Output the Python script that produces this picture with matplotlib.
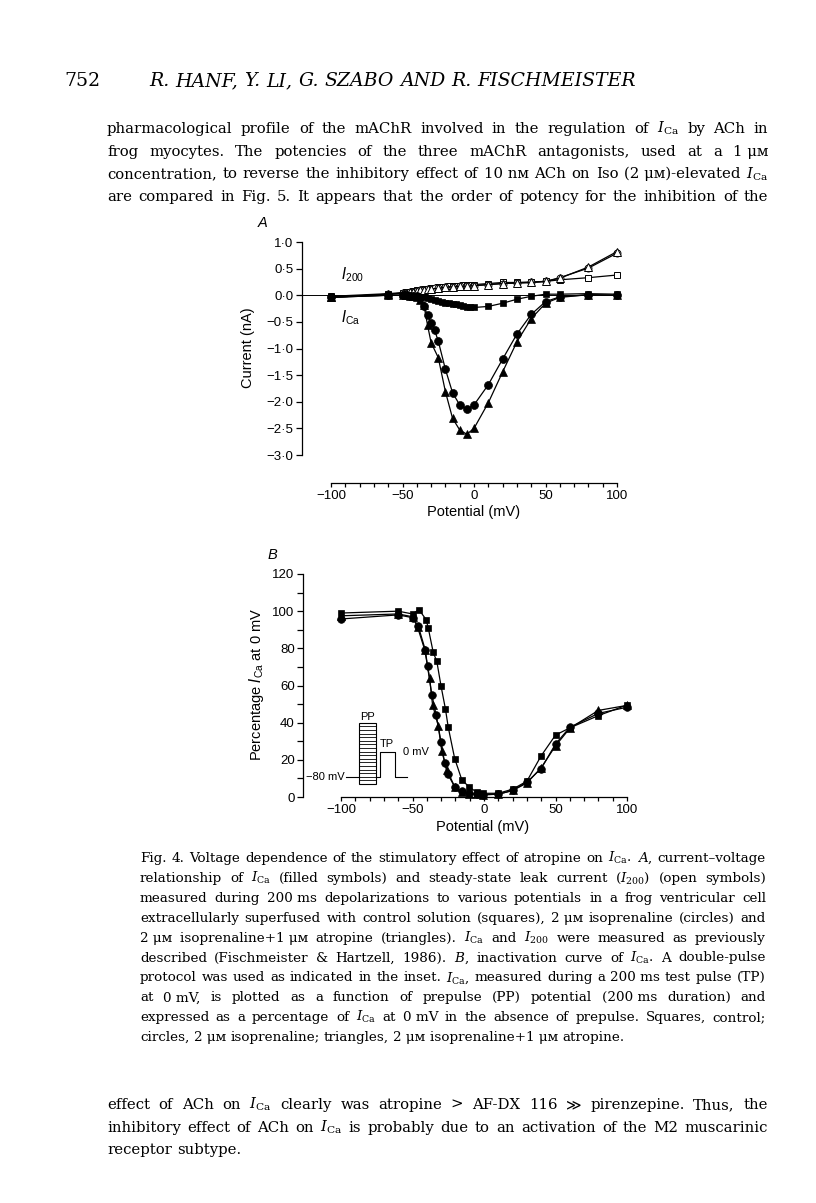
import matplotlib
matplotlib.use('Agg')
import matplotlib.pyplot as plt
from matplotlib.ticker import MultipleLocator

# ---------------- data: panel A (current-voltage) ----------------
V_ctrl_A = [-100, -60, -50, -47.5, -45, -42.5, -40, -37.5, -35, -32.5, -30, -27.5, -25, -22.5,
            -20, -17.5, -15, -12.5, -10, -7.5, -5, -2.5, 0, 10, 20, 30, 40, 50, 60, 80, 100]
ICa_ctrl = [-0.03, 0.0, 0.0, 0.0, -0.01, -0.01, -0.02, -0.03, -0.04, -0.05, -0.07, -0.09, -0.11, -0.13,
            -0.14, -0.15, -0.16, -0.17, -0.19, -0.21, -0.22, -0.23, -0.23, -0.21, -0.15, -0.075, -0.02,
            0.02, 0.02, 0.03, 0.02]
I200_ctrl = [-0.02, 0.03, 0.05, 0.06, 0.07, 0.08, 0.09, 0.10, 0.11, 0.12, 0.13, 0.14, 0.15, 0.15,
             0.16, 0.17, 0.17, 0.18, 0.18, 0.19, 0.19, 0.20, 0.20, 0.22, 0.24, 0.24, 0.25, 0.26, 0.29,
             0.33, 0.38]

V_iso_A = [-100, -60, -50, -47.5, -45, -42.5, -40, -37.5, -35, -32.5, -30, -27.5, -25, -20, -15,
           -10, -5, 0, 10, 20, 30, 40, 50, 60, 80, 100]
ICa_iso = [-0.04, 0.0, 0.0, 0.0, -0.01, -0.01, -0.02, -0.06, -0.2, -0.38, -0.52, -0.66, -0.86, -1.39,
           -1.83, -2.06, -2.14, -2.06, -1.68, -1.2, -0.73, -0.36, -0.12, -0.03, 0.01, 0.0]
I200_iso = [-0.04, 0.02, 0.04, 0.05, 0.06, 0.07, 0.08, 0.09, 0.10, 0.11, 0.12, 0.13, 0.13, 0.15,
            0.16, 0.17, 0.17, 0.18, 0.20, 0.22, 0.23, 0.24, 0.26, 0.33, 0.51, 0.79]

V_atr_A = [-100, -60, -50, -47.5, -45, -42.5, -40, -37.5, -35, -32.5, -30, -25, -20, -15, -10, -5,
           0, 10, 20, 30, 40, 50, 60, 80, 100]
ICa_atr = [-0.04, 0.0, 0.0, 0.0, -0.01, -0.01, -0.03, -0.08, -0.19, -0.56, -0.89, -1.17, -1.81,
           -2.31, -2.53, -2.61, -2.5, -2.02, -1.44, -0.875, -0.44, -0.15, -0.04, 0.01, 0.0]
I200_atr = [-0.04, 0.02, 0.04, 0.05, 0.06, 0.07, 0.08, 0.09, 0.10, 0.11, 0.12, 0.13, 0.15, 0.16,
            0.17, 0.17, 0.18, 0.20, 0.22, 0.23, 0.24, 0.26, 0.32, 0.53, 0.82]

A_yticks = [1.0, 0.5, 0.0, -0.5, -1.0, -1.5, -2.0, -2.5, -3.0]
A_yticklabels = ['1·0', '0·5', '0·0', '−0·5', '−1·0', '−1·5', '−2·0', '−2·5', '−3·0']
X_ticks = [-100, -50, 0, 50, 100]
X_ticklabels = ['−100', '−50', '0', '50', '100']

# ---------------- data: panel B (inactivation) ----------------
V_ctrl_B = [-100, -60, -50, -45.5, -40.5, -39, -35.5, -33, -30, -27, -25, -20.5, -15.5, -10.5, -5,
            -0.5, 10, 20, 30, 40, 50, 60, 80, 100]
P_ctrl_B = [99, 100, 98.5, 100.8, 95.5, 91, 77.8, 73, 59.5, 47.5, 37.5, 20.7, 9.2, 5.5, 2.5, 2, 2,
            4.2, 8.5, 22.2, 33.3, 37.2, 43.8, 49.5]
V_iso_B = [-100, -60, -50, -46, -41, -39.5, -36.5, -33.5, -30, -27.5, -25.5, -20.5, -15.5, -10.5,
           -5, -1, 10, 20, 30, 40, 50, 60, 80, 100]
P_iso_B = [95.8, 98, 96.5, 92, 79, 70.3, 55, 44.3, 29.4, 18.3, 12.5, 5.5, 3, 2, 1.5, 1.2, 1.5, 3.5,
           8, 15.3, 28.5, 37.5, 45, 48.3]
V_atr_B = [-100, -60, -50, -46.5, -41.5, -38, -36, -32, -29.5, -26, -20.5, -15.5, -10.5, -5, -1, 10,
           20, 30, 40, 50, 60, 80, 100]
P_atr_B = [97.5, 98.5, 97, 91.5, 79.3, 64, 49.7, 38.4, 24.5, 14.7, 5.5, 2.5, 1.8, 1.5, 1.2, 1.5, 3.5,
           7.5, 15.8, 27.5, 37, 46.6, 49.3]
B_yticks = [0, 20, 40, 60, 80, 100, 120]

# ---------------- page text ----------------
ICA = r'$I_{\mathrm{Ca}}$'
I200 = r'$I_{200}$'
page_number = '752'
running_head = 'R. HANF, Y. LI, G. SZABO AND R. FISCHMEISTER'
body_top = [
    'pharmacological profile of the mAChR involved in the regulation of ' + ICA + ' by ACh in',
    'frog myocytes. The potencies of the three mAChR antagonists, used at a 1~μᴍ',
    'concentration, to reverse the inhibitory effect of 10~nᴍ ACh on Iso (2~μᴍ)-elevated ' + ICA,
    'are compared in Fig. 5. It appears that the order of potency for the inhibition of the',
]
caption = [
    'Fig. 4. Voltage dependence of the stimulatory effect of atropine on ' + ICA + '. $A$, current–voltage',
    'relationship of ' + ICA + ' (filled symbols) and steady-state leak current (' + I200 + ') (open symbols)',
    'measured during 200~ms depolarizations to various potentials in a frog ventricular cell',
    'extracellularly superfused with control solution (squares), 2~μᴍ isoprenaline (circles) and',
    '2~μᴍ isoprenaline+1~μᴍ atropine (triangles). ' + ICA + ' and ' + I200 + ' were measured as previously',
    'described (Fischmeister & Hartzell, 1986). $B$, inactivation curve of ' + ICA + '. A double-pulse',
    'protocol was used as indicated in the inset. ' + ICA + ', measured during a 200~ms test pulse (TP)',
    'at 0~mV, is plotted as a function of prepulse (PP) potential (200~ms duration) and',
    'expressed as a percentage of ' + ICA + ' at 0~mV in the absence of prepulse. Squares, control;',
    'circles, 2~μᴍ isoprenaline; triangles, 2~μᴍ isoprenaline+1~μᴍ atropine.',
]
body_bottom = [
    'effect of ACh on ' + ICA + ' clearly was atropine > AF-DX 116 ≫ pirenzepine. Thus, the',
    'inhibitory effect of ACh on ' + ICA + ' is probably due to an activation of the M2 muscarinic',
    'receptor subtype.',
]

# ---------------- figure ----------------
W, H = 816, 1203
fig = plt.figure(figsize=(W / 100, H / 100), dpi=100)
SANS = ['Liberation Sans', 'DejaVu Sans']
SERIF = ['DejaVu Serif', 'DejaVu Sans']
PT = 0.72  # points per pixel at 100 dpi


def style_ticks(ax, labelsize=9.5):
    for lab in ax.get_xticklabels() + ax.get_yticklabels():
        lab.set_family(SANS)
        lab.set_fontsize(labelsize)


# ---- panel A ----
axA = fig.add_axes([331 / W, 1 - 455 / H, 286 / W, 213 / H])
axA.set_xlim(-100, 100)
axA.set_ylim(-3, 1)
for s in ('top', 'right'):
    axA.spines[s].set_visible(False)
axA.spines['left'].set_position(('outward', 29 * PT))
axA.spines['bottom'].set_position(('outward', 28 * PT))
for s in ('left', 'bottom'):
    axA.spines[s].set_linewidth(0.9)
axA.set_yticks(A_yticks)
axA.set_yticklabels(A_yticklabels)
axA.set_xticks(X_ticks)
axA.set_xticklabels(X_ticklabels)
axA.xaxis.set_minor_locator(MultipleLocator(10))
axA.tick_params(axis='y', direction='out', length=4.5, width=0.9, pad=1.5)
axA.tick_params(axis='x', which='both', direction='out', length=3.2, width=0.9, pad=2)
style_ticks(axA)
axA.patch.set_visible(False)

axA.axhline(0, xmin=-29 / 286, xmax=1, color='k', lw=0.7, clip_on=False, zorder=1)

lw = 0.9
kw_open = dict(color='k', lw=lw, mfc='white', mec='k', mew=0.7, clip_on=False)
kw_fill = dict(color='k', lw=lw, mfc='k', mec='k', mew=0.5, clip_on=False)
axA.plot(V_ctrl_A, I200_ctrl, marker='s', ms=4.5, zorder=3, **kw_open)
axA.plot(V_iso_A, I200_iso, marker='o', ms=5.0, zorder=3, **kw_open)
axA.plot(V_atr_A, I200_atr, marker='^', ms=5.2, zorder=3, **kw_open)
axA.plot(V_ctrl_A, ICa_ctrl, marker='s', ms=4.5, zorder=4, **kw_fill)
axA.plot(V_iso_A, ICa_iso, marker='o', ms=5.7, zorder=4, **kw_fill)
axA.plot(V_atr_A, ICa_atr, marker='^', ms=6.0, zorder=4, **kw_fill)

fig.text(341 / W, 1 - 279 / H, r'$I_{\mathregular{200}}$', family=SANS, fontsize=10.5,
         math_fontfamily='dejavusans', ha='left', va='baseline')
fig.text(341 / W, 1 - 322 / H, r'$I_{\mathregular{Ca}}$', family=SANS, fontsize=10.5,
         math_fontfamily='dejavusans', ha='left', va='baseline')
fig.text(258 / W, 1 - 223 / H, 'A', family=SANS, style='italic', fontsize=10.5, ha='left', va='center')
fig.text(248 / W, 1 - 348 / H, 'Current (nA)', family=SANS, fontsize=10.5, rotation=90,
         ha='center', va='center')
fig.text(474 / W, 1 - 512 / H, 'Potential (mV)', family=SANS, fontsize=10.5, ha='center', va='center')

# ---- panel B ----
axB = fig.add_axes([341 / W, 1 - 797 / H, 286 / W, 223 / H])
axB.set_xlim(-100, 100)
axB.set_ylim(0, 120)
for s in ('top', 'right'):
    axB.spines[s].set_visible(False)
axB.spines['left'].set_position(('outward', 38 * PT))
for s in ('left', 'bottom'):
    axB.spines[s].set_linewidth(0.9)
axB.set_yticks(B_yticks)
axB.yaxis.set_minor_locator(MultipleLocator(10))
axB.set_xticks(X_ticks)
axB.set_xticklabels(X_ticklabels)
axB.xaxis.set_minor_locator(MultipleLocator(10))
axB.tick_params(axis='y', which='both', direction='out', length=4.5, width=0.9, pad=1.5)
axB.tick_params(axis='x', which='both', direction='out', length=3.2, width=0.9, pad=2)
style_ticks(axB)
axB.patch.set_visible(False)

axB.plot(V_ctrl_B, P_ctrl_B, marker='s', ms=5.0, zorder=4, **kw_fill)
axB.plot(V_iso_B, P_iso_B, marker='o', ms=5.5, zorder=4, **kw_fill)
axB.plot(V_atr_B, P_atr_B, marker='^', ms=5.8, zorder=4, **kw_fill)

fig.text(268 / W, 1 - 555 / H, 'B', family=SANS, style='italic', fontsize=10.5, ha='left', va='center')
fig.text(257 / W, 1 - 684 / H, r'Percentage $I_{\mathregular{Ca}}$ at 0 mV', family=SANS, fontsize=10.5,
         math_fontfamily='dejavusans', rotation=90, ha='center', va='center')
fig.text(483 / W, 1 - 827 / H, 'Potential (mV)', family=SANS, fontsize=10.5, ha='center', va='center')

# inset: double pulse protocol (axes-fraction coordinates)
tA = axB.transAxes
rx0, rx1, ry0, ry1 = 0.064, 0.122, 0.058, 0.333
axB.add_patch(plt.Rectangle((rx0, ry0), rx1 - rx0, ry1 - ry0, transform=tA, fill=False,
                            ec='k', lw=0.8, clip_on=False))
nstripes = 17
for i in range(1, nstripes):
    yy = ry0 + (ry1 - ry0) * i / nstripes
    axB.plot([rx0, rx1], [yy, yy], transform=tA, color='k', lw=0.6, clip_on=False)
base, top = 0.088, 0.203
axB.plot([0.017, rx0], [base, base], transform=tA, color='k', lw=0.8, clip_on=False)
axB.plot([rx1, 0.136, 0.136, 0.189, 0.189, 0.23], [base, base, top, top, base, base],
         transform=tA, color='k', lw=0.8, clip_on=False)
axB.text(0.093, 0.36, 'PP', transform=tA, family=SANS, fontsize=8, ha='center', va='center')
axB.text(0.16, 0.238, 'TP', transform=tA, family=SANS, fontsize=8, ha='center', va='center')
axB.text(0.218, 0.2, '0 mV', transform=tA, family=SANS, fontsize=8, ha='left', va='center')
axB.text(0.012, base, '−80 mV', transform=tA, family=SANS, fontsize=8, ha='right', va='center')

# ---------------- page text rendering ----------------
renderer = fig.canvas.get_renderer()


def tw(s, size, style='normal'):
    t = fig.text(0, 0, s, fontsize=size, family=SERIF, style=style, math_fontfamily='dejavuserif')
    w = t.get_window_extent(renderer).width
    t.remove()
    return w


def words_of(s):
    return [w.replace('~', ' ') for w in s.split(' ')]


def natural_width(s, size, style='normal'):
    ws = words_of(s)
    sp = tw('a a', size) - tw('aa', size)
    return sum(tw(w, size, style) for w in ws) + sp * (len(ws) - 1)


def draw_line(s, x0, x1, yb, size, justify=True, style='normal'):
    ws = words_of(s)
    wd = [tw(w, size, style) for w in ws]
    if justify and len(ws) > 1:
        gap = (x1 - x0 - sum(wd)) / (len(ws) - 1)
    else:
        gap = tw('a a', size) - tw('aa', size)
    x = x0
    for w, d in zip(ws, wd):
        fig.text(x / W, 1 - yb / H, w, fontsize=size, family=SERIF, style=style,
                 math_fontfamily='dejavuserif', ha='left', va='baseline')
        x += d + gap


def fit_size(lines, target):
    m = max(natural_width(s, 10) for s in lines)
    return 10 * target * 0.985 / m


# header
hs = 10 * 486 / natural_width(running_head, 10, 'italic')
fig.text(64 / W, 1 - 86 / H, page_number, fontsize=hs, family=SERIF, ha='left', va='baseline')
draw_line(running_head, 149, 635, 86, hs, justify=False, style='italic')

# body text (top)
BX0, BX1 = 107, 768
bsize = fit_size(body_top + body_bottom[:2], BX1 - BX0)
for i, s in enumerate(body_top):
    draw_line(s, BX0, BX1, 133 + 22.7 * i, bsize)

# caption
CX0, CX1 = 140, 766
csize = fit_size(caption[:-1], CX1 - CX0)
for i, s in enumerate(caption):
    draw_line(s, CX0, CX1, 862 + 19.9 * i, csize, justify=(i < len(caption) - 1))

# body text (bottom)
for i, s in enumerate(body_bottom):
    draw_line(s, BX0, BX1, 1109 + 22.7 * i, bsize, justify=(i < len(body_bottom) - 1))

fig.savefig('out.png', dpi=100)
